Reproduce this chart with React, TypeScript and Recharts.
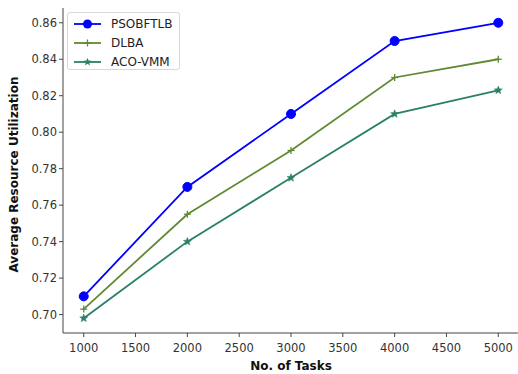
import { LineChart, Line, XAxis, YAxis, Legend } from "recharts";

const TASKS = [1000, 2000, 3000, 4000, 5000];
const PSOBFTLB = [0.71, 0.77, 0.81, 0.85, 0.86];
const DLBA = [0.703, 0.755, 0.79, 0.83, 0.84];
const ACO_VMM = [0.698, 0.74, 0.775, 0.81, 0.823];
const X_TICKS = [1000, 1500, 2000, 2500, 3000, 3500, 4000, 4500, 5000];
const Y_TICKS = [0.7, 0.72, 0.74, 0.76, 0.78, 0.8, 0.82, 0.84, 0.86];

const BLUE = "#0000ff";
const OLIVE = "#5f8a33";
const TEAL = "#2a8068";
const FONT = "'DejaVu Sans', sans-serif";

const data = TASKS.map((t, i) => ({
  tasks: t,
  pso: PSOBFTLB[i],
  dlba: DLBA[i],
  aco: ACO_VMM[i],
}));

function CircleDot(props: any) {
  const { cx, cy } = props;
  if (cx == null || cy == null) return null;
  return <circle cx={cx} cy={cy} r={4.5} fill={BLUE} stroke={BLUE} />;
}

function PlusDot(props: any) {
  const { cx, cy } = props;
  if (cx == null || cy == null) return null;
  return (
    <g stroke={OLIVE} strokeWidth={1.3}>
      <line x1={cx - 3.5} y1={cy} x2={cx + 3.5} y2={cy} />
      <line x1={cx} y1={cy - 3.5} x2={cx} y2={cy + 3.5} />
    </g>
  );
}

function starPath(cx: number, cy: number, R: number, r: number) {
  let d = "";
  for (let i = 0; i < 10; i++) {
    const rad = i % 2 === 0 ? R : r;
    const a = -Math.PI / 2 + (i * Math.PI) / 5;
    d += (i === 0 ? "M" : "L") + (cx + rad * Math.cos(a)) + "," + (cy + rad * Math.sin(a));
  }
  return d + "Z";
}

function StarDot(props: any) {
  const { cx, cy } = props;
  if (cx == null || cy == null) return null;
  return <path d={starPath(cx, cy, 4.2, 1.8)} fill={TEAL} stroke={TEAL} strokeWidth={0.5} />;
}

function LegendBox() {
  const items = [
    { name: "PSOBFTLB", color: BLUE, marker: "circle" },
    { name: "DLBA", color: OLIVE, marker: "plus" },
    { name: "ACO-VMM", color: TEAL, marker: "star" },
  ];
  return (
    <div
      style={{
        position: "absolute",
        left: 67,
        top: 12,
        width: 113,
        height: 58,
        border: "1px solid #d8d8d8",
        borderRadius: 3,
        background: "rgba(255,255,255,0.85)",
        fontFamily: FONT,
        fontSize: 12,
        color: "#222",
        boxSizing: "border-box",
      }}
    >
      {items.map((it, i) => (
        <div key={it.name} style={{ position: "absolute", left: 4, top: 2 + i * 19, height: 18, display: "flex", alignItems: "center" }}>
          <svg width={30} height={18}>
            <line x1={2} y1={9} x2={29} y2={9} stroke={it.color} strokeWidth={1.8} />
            {it.marker === "circle" && <circle cx={15.5} cy={9} r={4.5} fill={it.color} />}
            {it.marker === "plus" && (
              <g stroke={it.color} strokeWidth={1.3}>
                <line x1={12} y1={9} x2={19} y2={9} />
                <line x1={15.5} y1={5.5} x2={15.5} y2={12.5} />
              </g>
            )}
            {it.marker === "star" && <path d={starPath(15.5, 9, 4.2, 1.8)} fill={it.color} />}
          </svg>
          <span style={{ marginLeft: 9 }}>{it.name}</span>
        </div>
      ))}
    </div>
  );
}

export default function App() {
  return (
    <div style={{ position: "absolute", left: 0, top: 0, width: 518, height: 374, overflow: "hidden", background: "#fff" }}>
      <LineChart width={522} height={374} data={data} margin={{ top: 8, right: 3, bottom: 0, left: 0 }}>
        <XAxis
          dataKey="tasks"
          type="number"
          domain={[800, 5200]}
          ticks={X_TICKS}
          allowDataOverflow
          height={41}
          stroke="#444"
          tickSize={4}
          tick={{ fill: "#333", fontSize: 11.5, fontFamily: FONT, dy: 5 }}
          label={{ value: "No. of Tasks", position: "insideBottom", offset: 4, fill: "#111", fontSize: 12, fontWeight: "bold", fontFamily: FONT }}
        />
        <XAxis xAxisId="top" orientation="top" dataKey="tasks" type="number" domain={[800, 5200]} height={0} tick={false} tickLine={false} stroke="#444" />
        <YAxis
          type="number"
          domain={[0.6899, 0.8681]}
          ticks={Y_TICKS}
          allowDataOverflow
          width={63}
          stroke="#444"
          tickSize={4}
          tickFormatter={(v: number) => v.toFixed(2)}
          tick={{ fill: "#333", fontSize: 11.5, fontFamily: FONT }}
          label={{ value: "Average Resource Utilization", angle: -90, position: "insideLeft", offset: 14, dy: 102, fill: "#111", fontSize: 12, fontWeight: "bold", fontFamily: FONT }}
        />
        <Legend content={() => <LegendBox />} wrapperStyle={{ position: "absolute", left: 0, top: 0, width: 0, height: 0 }} />
        <Line dataKey="pso" stroke={BLUE} strokeWidth={1.8} dot={<CircleDot />} activeDot={false} isAnimationActive={false} />
        <Line dataKey="dlba" stroke={OLIVE} strokeWidth={1.8} dot={<PlusDot />} activeDot={false} isAnimationActive={false} />
        <Line dataKey="aco" stroke={TEAL} strokeWidth={1.8} dot={<StarDot />} activeDot={false} isAnimationActive={false} />
      </LineChart>
    </div>
  );
}
